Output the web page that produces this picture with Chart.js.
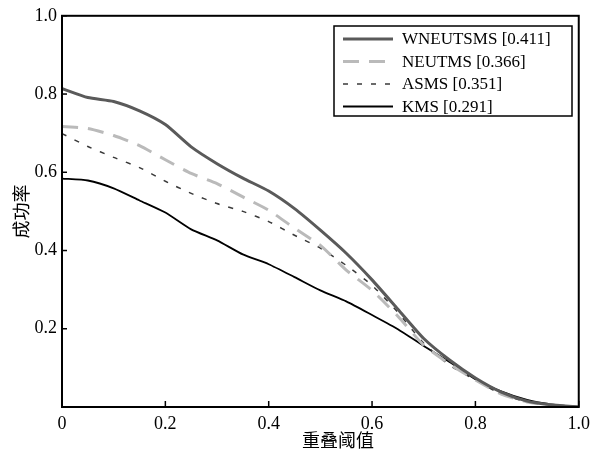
<!DOCTYPE html>
<html>
<head>
<meta charset="utf-8">
<script src="https://cdn.jsdelivr.net/npm/chart.js@4"></script>
<style>
  body { margin: 0; background: #fff; }
</style>
</head>
<body>
<canvas id="myChart" width="596" height="454"></canvas>
<script>
// overlap thresholds (x) and success rates per method
var thresholds = [0, 0.05, 0.1, 0.15, 0.2, 0.25, 0.3, 0.35, 0.4, 0.45, 0.5, 0.55, 0.6, 0.65, 0.7, 0.75, 0.8, 0.85, 0.9, 0.95, 1.0];
var wneutsms = [0.814, 0.791, 0.781, 0.757, 0.722, 0.665, 0.622, 0.585, 0.552, 0.507, 0.452, 0.393, 0.325, 0.25, 0.175, 0.12, 0.074, 0.038, 0.015, 0.005, 0];
var neutms = [0.717, 0.712, 0.694, 0.668, 0.632, 0.597, 0.571, 0.537, 0.503, 0.457, 0.413, 0.35, 0.298, 0.232, 0.158, 0.11, 0.069, 0.033, 0.013, 0.005, 0];
var asms = [0.699, 0.666, 0.638, 0.612, 0.577, 0.546, 0.52, 0.5, 0.474, 0.439, 0.406, 0.362, 0.311, 0.242, 0.163, 0.107, 0.069, 0.033, 0.013, 0.005, 0];
var kms = [0.584, 0.579, 0.559, 0.528, 0.497, 0.454, 0.426, 0.39, 0.365, 0.332, 0.298, 0.27, 0.235, 0.199, 0.156, 0.115, 0.071, 0.04, 0.018, 0.006, 0];
var seriesLabels = ['WNEUTSMS [0.411]', 'NEUTMS [0.366]', 'ASMS [0.351]', 'KMS [0.291]'];
var xTitle = '重叠阈值';
var yTitle = '成功率';

var serif = "'Liberation Serif', 'Times New Roman', 'Noto Sans CJK SC', serif";

function pts(ys) {
  return thresholds.map(function(x, i) { return { x: x, y: ys[i] }; });
}

var styles = [
  { color: '#5a5a5a', width: 3, dash: [] },
  { color: '#bababa', width: 3, dash: [16, 10] },
  { color: '#3a3a3a', width: 1.5, dash: [5, 9] },
  { color: '#000000', width: 1.8, dash: [] }
];
var allSeries = [wneutsms, neutms, asms, kms];

var datasets = allSeries.map(function(s, i) {
  return {
    label: seriesLabels[i],
    data: pts(s),
    borderColor: styles[i].color,
    borderWidth: styles[i].width,
    borderDash: styles[i].dash,
    pointRadius: 0,
    fill: false,
    tension: 0.2
  };
});

// box around plot, inward tick marks, x title and the legend inside the plot
var frame = {
  id: 'frame',
  afterDatasetsDraw: function(chart) {
    var c = chart.ctx;
    var a = chart.chartArea;
    c.save();
    c.strokeStyle = '#000';
    c.lineWidth = 2;
    c.setLineDash([]);
    c.strokeRect(a.left, a.top, a.right - a.left, a.bottom - a.top);

    c.lineWidth = 1.5;
    chart.scales.x.ticks.forEach(function(t) {
      var px = chart.scales.x.getPixelForValue(t.value);
      c.beginPath(); c.moveTo(px, a.bottom); c.lineTo(px, a.bottom - 6); c.stroke();
    });
    chart.scales.y.ticks.forEach(function(t) {
      var py = chart.scales.y.getPixelForValue(t.value);
      c.beginPath(); c.moveTo(a.left, py); c.lineTo(a.left + 5, py); c.stroke();
    });

    // x title, a bit right of centre as in the original
    c.fillStyle = '#000';
    c.font = '18px ' + serif;
    c.textAlign = 'center';
    c.textBaseline = 'middle';
    c.fillText(xTitle, 338, 442);

    // legend
    var bx = 334, by = 26, bw = 238, bh = 90;
    c.fillStyle = '#fff';
    c.fillRect(bx, by, bw, bh);
    c.lineWidth = 1.5;
    c.strokeStyle = '#000';
    c.strokeRect(bx, by, bw, bh);
    c.font = '17px ' + serif;
    c.textBaseline = 'middle';
    c.textAlign = 'left';
    seriesLabels.forEach(function(lab, i) {
      var y = by + 13 + i * 22.5;
      c.strokeStyle = styles[i].color;
      c.lineWidth = styles[i].width;
      c.setLineDash(styles[i].dash);
      c.beginPath(); c.moveTo(343, y); c.lineTo(393, y); c.stroke();
      c.setLineDash([]);
      c.fillStyle = '#000';
      c.fillText(lab, 402, y + 1);
    });
    c.restore();
  }
};

var ctx = document.getElementById('myChart').getContext('2d');
var myChart = new Chart(ctx, {
  type: 'line',
  data: { datasets: datasets },
  plugins: [frame],
  options: {
    responsive: false,
    animation: false,
    devicePixelRatio: 1,
    layout: { padding: { top: 15, right: 11, left: 0, bottom: 0 } },
    plugins: { legend: { display: false }, tooltip: { enabled: false } },
    scales: {
      x: {
        type: 'linear',
        min: 0,
        max: 1,
        grid: { display: false, drawTicks: false },
        border: { display: false },
        ticks: {
          stepSize: 0.2,
          padding: 6,
          color: '#000',
          maxRotation: 0,
          font: { family: serif, size: 18 },
          callback: function(v) { return v === 0 ? '0' : v.toFixed(1); }
        },
        afterFit: function(s) { s.height = 47; }
      },
      y: {
        min: 0,
        max: 1,
        grid: { display: false, drawTicks: false },
        border: { display: false },
        ticks: {
          stepSize: 0.2,
          padding: 5,
          color: '#000',
          font: { family: serif, size: 18 },
          callback: function(v) { return v === 0 ? '' : v.toFixed(1); }
        },
        title: {
          display: true,
          text: yTitle,
          color: '#000',
          font: { family: serif, size: 18 },
          padding: { top: 12, bottom: 0 }
        },
        afterFit: function(s) { s.width = 62; }
      }
    }
  }
});
</script>
</body>
</html>
